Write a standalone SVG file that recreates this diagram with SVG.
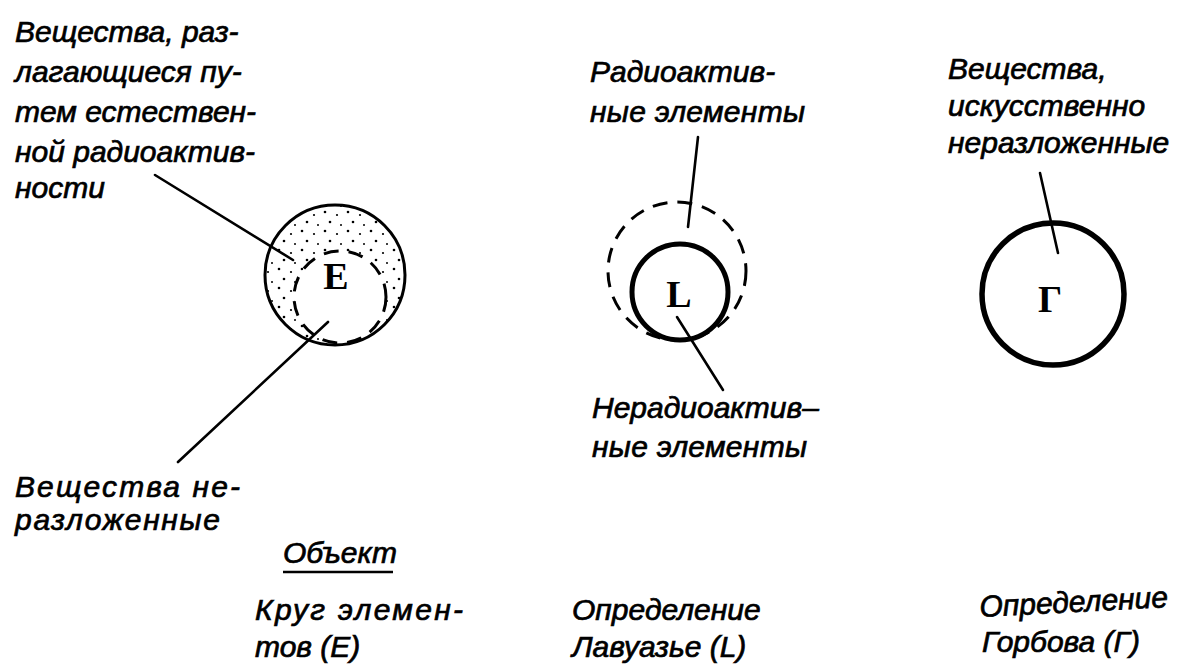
<svg xmlns="http://www.w3.org/2000/svg" width="1177" height="671" viewBox="0 0 1177 671">
<style>
.t{font-family:"Liberation Sans","DejaVu Sans",sans-serif;font-style:italic;font-size:30px;fill:#000;stroke:#000;stroke-width:0.7}
.big{font-family:"Liberation Serif","DejaVu Serif",serif;font-weight:bold;font-size:38px;fill:#000}
.ln{stroke:#000;stroke-width:2.6;fill:none;stroke-linecap:round}
.dash{stroke:#000;stroke-width:3;fill:none;stroke-dasharray:15 10}
</style>
<defs>
<pattern id="dots" width="23" height="19" patternUnits="userSpaceOnUse">
<circle cx="3" cy="3" r="1.3" fill="#000"/>
<circle cx="15" cy="6" r="1.1" fill="#000"/>
<circle cx="8" cy="13" r="1.3" fill="#000"/>
<circle cx="19" cy="16" r="1" fill="#000"/>
</pattern>
</defs>
<rect width="1177" height="671" fill="#fff"/>

<g id="node-E">
<circle cx="335" cy="275" r="70" fill="url(#dots)"/>
<circle cx="340" cy="297" r="46" fill="#fff"/>
<circle cx="335" cy="275" r="70" fill="none" stroke="#000" stroke-width="3"/>
<circle class="dash" cx="340" cy="297" r="46"/>
<text class="big" x="336" y="289" text-anchor="middle">E</text>
</g>

<g id="node-L">
<circle class="dash" cx="677" cy="271" r="69"/>
<circle cx="680" cy="292" r="48" fill="none" stroke="#000" stroke-width="5"/>
<text class="big" x="679" y="307" text-anchor="middle">L</text>
</g>

<g id="node-G">
<circle cx="1053" cy="294" r="71" fill="none" stroke="#000" stroke-width="5.5"/>
<text class="big" x="1050" y="312" text-anchor="middle">Г</text>
</g>

<g id="connectors">
<line class="ln" x1="155" y1="175" x2="293" y2="260"/>
<line class="ln" x1="328" y1="322" x2="178" y2="462"/>
<line class="ln" x1="698" y1="137" x2="688" y2="227"/>
<line class="ln" x1="677" y1="317" x2="723" y2="390"/>
<line class="ln" x1="1040" y1="173" x2="1058" y2="253"/>
</g>

<g id="labels">
<text class="t" x="15" y="42">Вещества, раз-</text>
<text class="t" x="15" y="82">лагающиеся пу-</text>
<text class="t" x="15" y="122">тем естествен-</text>
<text class="t" x="15" y="162">ной радиоактив-</text>
<text class="t" x="15" y="198">ности</text>

<text class="t" x="590" y="82">Радиоактив-</text>
<text class="t" x="590" y="122" textLength="215">ные элементы</text>

<text class="t" x="948" y="79">Вещества,</text>
<text class="t" x="948" y="116">искусственно</text>
<text class="t" x="948" y="153">неразложенные</text>

<text class="t" x="592" y="418">Нерадиоактив–</text>
<text class="t" x="592" y="457" textLength="215">ные элементы</text>

<text class="t" x="15" y="497" textLength="225">Вещества не-</text>
<text class="t" x="15" y="530" textLength="205">разложенные</text>

<text class="t" x="283" y="563">Объект</text>
<line x1="283" y1="572" x2="393" y2="572" stroke="#000" stroke-width="2.5"/>

<text class="t" x="255" y="620" textLength="208">Круг элемен-</text>
<text class="t" x="255" y="657">тов (Е)</text>

<text class="t" x="572" y="620">Определение</text>
<text class="t" x="572" y="657">Лавуазье (L)</text>

<text class="t" x="980" y="617" transform="rotate(-3 980 617)">Определение</text>
<text class="t" x="982" y="652">Горбова (Г)</text>
</g>
</svg>
